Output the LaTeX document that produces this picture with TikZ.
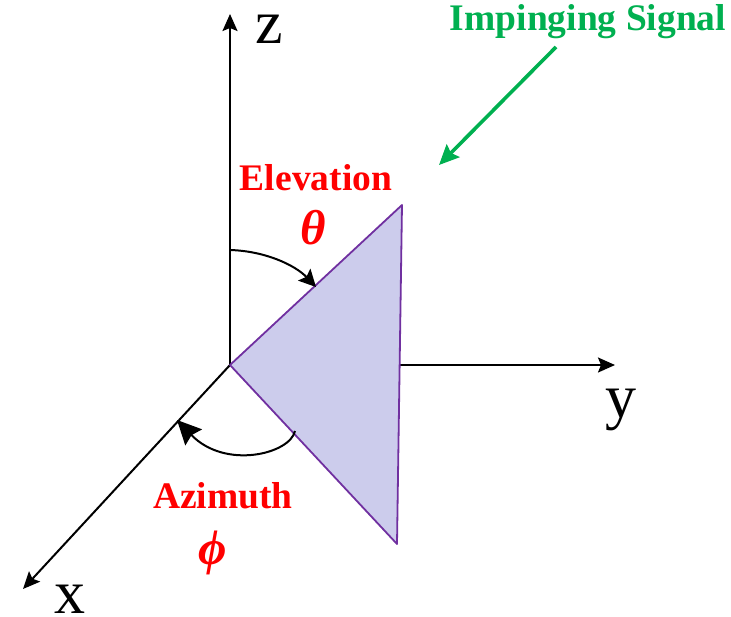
\documentclass[tikz,border=0pt]{standalone}
\usepackage{fontspec}
\setmainfont{Liberation Serif}
\usetikzlibrary{arrows.meta}
\definecolor{sigGreen}{RGB}{0,176,80}
\definecolor{panelFill}{RGB}{204,204,236}
\definecolor{panelLine}{RGB}{112,48,160}
\tikzset{
 x=1pt,y=-1pt,
 axisline/.style={black,line width=2pt,-{Stealth[length=17pt,width=15pt,inset=3pt]}},
 anglearc/.style={black,line width=2pt},
 redlabel/.style={text=red,font=\fontsize{37.5}{40}\selectfont\bfseries,inner sep=0pt},
 redgreek/.style={text=red,font=\fontsize{49}{52}\selectfont\bfseries\itshape,inner sep=0pt},
 axislabel/.style={text=black,font=\fontsize{62}{64}\selectfont,inner sep=0pt},
}
\begin{document}
\begin{tikzpicture}
\useasboundingbox (0,0) rectangle (731,616);
\coordinate (origin) at (230,365);
\coordinate (ztip) at (230,14);
\coordinate (ytip) at (615,365);
\coordinate (xtip) at (23,589);
\coordinate (top) at (402,205);
\coordinate (bot) at (397,544);
\coordinate (sigA) at (556,47);
\coordinate (sigB) at (439,165);
\draw[axisline] (origin) -- (ztip);
\draw[axisline] (origin) -- (xtip);
\draw[axisline] (400,365) -- (ytip);
\path[fill=panelFill,draw=panelLine,line width=1.8pt,line join=round] (origin) -- (top) -- (bot) -- cycle;
\draw[sigGreen,line width=3.6pt,-{Stealth[length=20pt,width=18pt,inset=3pt]}] (sigA) -- (sigB);
\coordinate (elA) at (230,250);
\coordinate (elB) at (316,287);
\draw[anglearc,-{Stealth[length=17pt,width=17pt,inset=3pt]}] (elA) .. controls (265,251) and (295,265) .. (elB);
\coordinate (azA) at (295,431);
\coordinate (azB) at (177,420);
\draw[anglearc,-{Stealth[length=24pt,width=23pt,inset=3pt]}] (azA) .. controls (290,454) and (225,470) .. (azB);
\node[axislabel] (zl) at (269,29) {z};
\node[axislabel] (yl) at (621,410) {y};
\node[axislabel] (xl) at (70,599) {x};
\node[text=sigGreen,font=\fontsize{37.5}{40}\selectfont\bfseries,inner sep=0pt] (sig) at (588,22) {Impinging Signal};
\node[redlabel] (el) at (316,178) {Elevation};
\node[redgreek] (th) at (313,228) {θ};
\node[redlabel] (az) at (223,496) {Azimuth};
\node[redgreek] (ph) at (213,553) {ϕ};
\end{tikzpicture}
\end{document}
